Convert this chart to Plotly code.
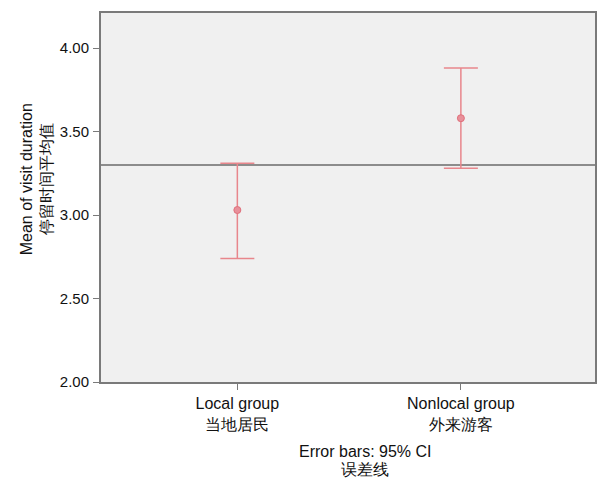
import plotly.graph_objects as go

categories = ["Local group<br>当地居民", "Nonlocal group<br>外来游客"]
means = [3.03, 3.58]
ci_upper = [3.31, 3.88]
ci_lower = [2.74, 3.28]
ref_value = 3.30
y_ticks = [2.00, 2.50, 3.00, 3.50, 4.00]
y_title_lines = ["Mean of visit duration", "停留时间平均值"]
x_title_lines = ["Error bars: 95% CI", "误差线"]

err_plus = [u - m for u, m in zip(ci_upper, means)]
err_minus = [m - l for m, l in zip(means, ci_lower)]

fig = go.Figure()
fig.add_trace(go.Scatter(
    x=categories, y=means, mode="markers",
    marker=dict(color="#e8909a", size=7, line=dict(color="#e0707c", width=1)),
    error_y=dict(type="data", symmetric=False, array=err_plus, arrayminus=err_minus,
                 color="#e8868c", thickness=1.5, width=17),
    showlegend=False,
))
fig.add_hline(y=ref_value, line=dict(color="#8c8c8c", width=2), layer="below")

FAM = "Liberation Sans, Arial, sans-serif"
def f(size):
    return dict(family=FAM, size=size, color="#111111")

L, T, W, H = 101, 13, 496, 369
def px_x(p):
    return (p - L) / W
def px_y(p):
    return (T + H - p) / H

for txt, xc in zip(y_title_lines, [26, 46]):
    fig.add_annotation(text=txt, xref="paper", yref="paper", x=px_x(xc), y=px_y(179),
                       xanchor="center", yanchor="middle", textangle=-90, showarrow=False,
                       font=f(16))
for txt, yc in zip(x_title_lines, [451, 469]):
    fig.add_annotation(text=txt, xref="paper", yref="paper", x=px_x(366.5), y=px_y(yc),
                       xanchor="center", yanchor="middle", showarrow=False, font=f(16))

fig.update_layout(
    width=598, height=486,
    margin=dict(l=L, r=598 - L - W, t=T, b=486 - T - H),
    paper_bgcolor="white", plot_bgcolor="#f0f0f0",
    font=f(15),
    xaxis=dict(type="category", range=[-0.61, 1.6], showgrid=False, zeroline=False,
               showline=True, linecolor="#7a7a7a", linewidth=2, mirror=True,
               ticks="outside", ticklen=6, tickcolor="#7a7a7a", tickfont=f(16)),
    yaxis=dict(range=[2.0, 4.21], tickvals=y_ticks, tickformat=".2f", showgrid=False,
               zeroline=False, showline=True, linecolor="#7a7a7a", linewidth=2, mirror=True,
               ticks="outside", ticklen=6, tickcolor="#7a7a7a", tickfont=f(15),
               ticklabelstandoff=1),
)
fig.write_html("out.html", config={"displayModeBar": False},
               post_script="document.body.style.margin='0px';document.body.style.overflow='hidden';")
